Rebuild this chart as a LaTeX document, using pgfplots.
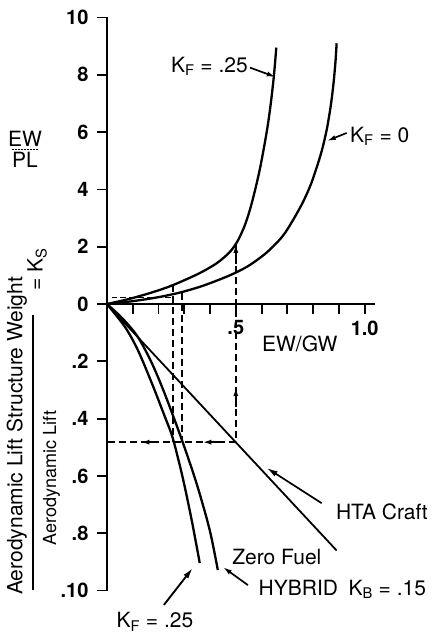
\documentclass[border=0pt]{standalone}
\usepackage{pgfplots}
\pgfplotsset{compat=1.18}
\usepackage{fontspec}
\setmainfont{TeX Gyre Heros}
\usetikzlibrary{arrows.meta}

\newcommand{\lbl}{\fontsize{21}{23}\selectfont}

\begin{document}
\begin{tikzpicture}
\begin{axis}[
    scale only axis,
    width=268pt, height=573pt,
    xmin=0, xmax=1.04,
    ymin=-10, ymax=10,
    axis x line=middle,
    axis y line=left,
    axis line style={-, line width=2.2pt},
    tick align=outside,
    major tick length=10pt,
    tick style={line width=1.8pt, black},
    xtick={0.1,0.2,0.3,0.4,0.5,0.6,0.7,0.8,0.9,1.0},
    xticklabels={,,,,.5,,,,,1.0},
    ytick={-10,-8,-6,-4,-2,0,2,4,6,8,10},
    yticklabels={.10,.8,.6,.4,.2,0,2,4,6,8,10},
    ticklabel style={font=\fontsize{20}{22}\selectfont\bfseries},
    yticklabel style={xshift=-5pt},
    xticklabel style={yshift=-3pt},
    /pgf/number format/assume math mode=true,
    clip=false,
]

% frame of the whole figure
\path (axis cs:-0.415,-11.62) rectangle (axis cs:1.233,10.61);

% upper part, EW/PL
\addplot[line width=2.3pt, smooth] coordinates {
(0,0)(0.05,0.1)(0.10,0.21)(0.18,0.42)(0.256,0.66)(0.36,1.08)(0.43,1.45)
(0.48,1.85)(0.51,2.25)(0.535,2.75)(0.555,3.3)(0.574,3.95)(0.593,4.7)
(0.61,5.5)(0.625,6.3)(0.637,7.1)(0.647,7.9)(0.653,8.5)(0.657,8.95)
};
\addplot[line width=2.3pt, smooth] coordinates {
(0,0)(0.1,0.1)(0.2,0.24)(0.283,0.4)(0.36,0.6)(0.43,0.83)(0.496,1.08)
(0.554,1.36)(0.62,1.8)(0.68,2.35)(0.72,2.9)(0.76,3.55)(0.79,4.15)
(0.815,4.8)(0.835,5.4)(0.853,6.1)(0.868,6.9)(0.879,7.7)(0.887,8.5)(0.891,9.1)
};

% lower part, K_S
\addplot[line width=2.3pt, smooth] coordinates {
(0,0)(0.07,-0.8)(0.12,-1.61)(0.174,-2.76)(0.225,-3.94)(0.256,-4.7)
(0.295,-6.1)(0.33,-7.6)(0.36,-9.04)
};
\addplot[line width=2.3pt, smooth] coordinates {
(0,0)(0.06,-0.5)(0.12,-1.15)(0.174,-2.06)(0.225,-3.15)(0.291,-4.75)
(0.349,-6.3)(0.399,-7.9)(0.43,-9.28)
};
\addplot[line width=1.8pt] coordinates {(0,0)(0.891,-8.6)};

% dashed guide lines
\addplot[line width=1.9pt, dash pattern=on 7pt off 4pt] coordinates {(0.5,2.1)(0.5,-4.82)(0,-4.82)};
\addplot[line width=1.7pt, dash pattern=on 7pt off 4pt] coordinates {(0.256,0.66)(0.256,-4.82)};
\addplot[line width=1.7pt, dash pattern=on 7pt off 4pt] coordinates {(0.291,0.4)(0.291,-4.82)};
\addplot[line width=1.3pt, dash pattern=on 6pt off 3pt] coordinates {(0.25,0.22)(0.02,0.22)};

% arrowheads on guide lines
\draw[-{Latex[length=9pt,width=5pt]}, line width=1.7pt] (axis cs:0.5,1.4) -- (axis cs:0.5,2.1);
\draw[-{Latex[length=9pt,width=5pt]}, line width=1.7pt] (axis cs:0.5,-3.6) -- (axis cs:0.5,-2.9);
\draw[-{Latex[length=9pt,width=5pt]}, line width=1.7pt] (axis cs:0.2,-4.82) -- (axis cs:0.13,-4.82);
\draw[-{Latex[length=9pt,width=5pt]}, line width=1.7pt] (axis cs:0.44,-4.82) -- (axis cs:0.37,-4.82);

% labels and pointers
\node[font=\lbl, anchor=south, inner sep=1pt] at (axis cs:-0.318,5.45) {EW};
\draw[line width=1pt, dash pattern=on 2pt off 1pt] (axis cs:-0.37,5.4) -- (axis cs:-0.266,5.4);
\node[font=\lbl, anchor=north, inner sep=1pt] at (axis cs:-0.318,5.35) {PL};
\node[font=\lbl] at (axis cs:0.748,-1.4) {EW/GW};

\node[font=\lbl, anchor=east] at (axis cs:0.56,8.3) {K\textsubscript{F} = .25};
\draw[-{Latex[length=9pt,width=5pt]}, line width=1.7pt] (axis cs:0.555,8.25) -- (axis cs:0.655,7.92);

\node[font=\lbl, anchor=west] at (axis cs:0.93,5.85) {K\textsubscript{F} = 0};
\draw[-{Latex[length=9pt,width=5pt]}, line width=1.7pt] (axis cs:0.93,5.97) -- (axis cs:0.853,5.69);

\node[font=\lbl, anchor=west] at (axis cs:0.875,-7.26) {HTA Craft};
\draw[-{Latex[length=11pt,width=6pt]}, line width=1.7pt] (axis cs:0.833,-6.95) -- (axis cs:0.62,-5.72);

\node[font=\lbl] at (axis cs:0.659,-8.83) {Zero Fuel};

\node[font=\lbl, anchor=west] at (axis cs:0.575,-9.95) {HYBRID\enspace K\textsubscript{B} = .15};
\draw[-{Latex[length=9pt,width=5pt]}, line width=1.7pt] (axis cs:0.547,-9.81) -- (axis cs:0.45,-9.18);

\node[font=\lbl] at (axis cs:0.186,-11.1) {K\textsubscript{F} = .25};
\draw[-{Latex[length=11pt,width=6pt]}, line width=1.9pt] (axis cs:0.221,-10.5) -- (axis cs:0.333,-9.21);

% left rotated label
\node[rotate=90, font=\fontsize{21}{23}\selectfont] at (axis cs:-0.35,-4.6) {Aerodynamic Lift Structure Weight};
\draw[line width=1.7pt] (axis cs:-0.287,-0.4) -- (axis cs:-0.287,-9.98);
\node[rotate=90, font=\fontsize{18}{20}\selectfont] at (axis cs:-0.215,-6.07) {Aerodynamic Lift};
\node[rotate=90, font=\lbl] at (axis cs:-0.271,1.2) {= K\textsubscript{S}};

\end{axis}
\end{tikzpicture}
\end{document}
